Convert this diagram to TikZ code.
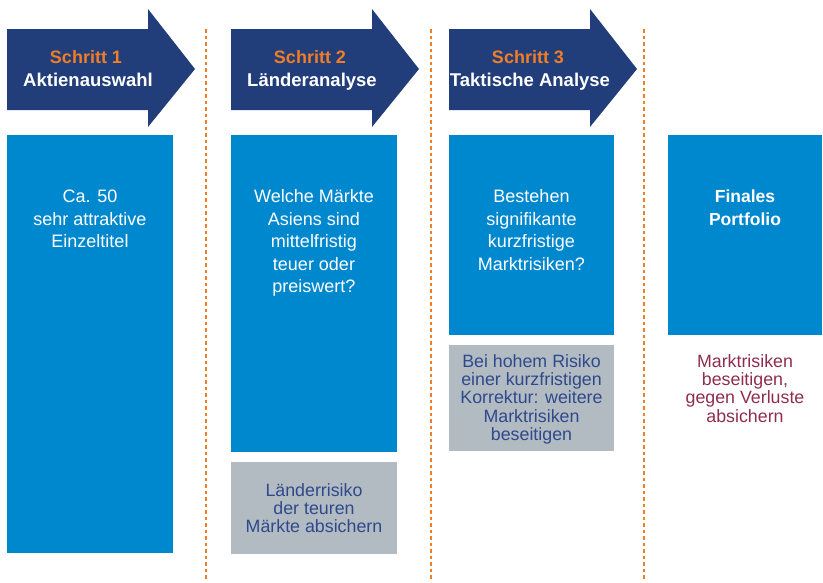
\documentclass[tikz,border=0pt]{standalone}
\usepackage{fontspec}
\setmainfont{Liberation Sans}

\definecolor{arrowblue}{RGB}{33,61,122}
\definecolor{boxblue}{RGB}{0,136,206}
\definecolor{boxgrey}{RGB}{178,186,194}
\definecolor{greytext}{RGB}{47,74,140}
\definecolor{stepora}{RGB}{240,126,38}
\definecolor{maroon}{RGB}{142,46,78}

\begin{document}
\begin{tikzpicture}[x=1pt,y=1pt,yscale=-1,xscale=1,
  bluetxt/.style={anchor=base,inner sep=0pt,align=center,text=white,font=\fontsize{18}{22.5}\selectfont},
  greytxt/.style={anchor=base,inner sep=0pt,align=center,text=greytext,font=\fontsize{17.8}{18.4}\selectfont},
  divider/.style={stepora,line width=2.4pt,dash pattern=on 3.5pt off 3pt}]
\useasboundingbox (0,0) rectangle (823,582);

%Divider Lines
\foreach \x in {206,431,644}
  \draw [divider] (\x,29) -- (\x,579) ;

%Shape: Arrows
\foreach \x/\n/\lbl in {7/1/Aktienauswahl,231/2/Länderanalyse,449/3/Taktische Analyse}{
  \fill [arrowblue] (\x,29) -- (\x+141,29) -- (\x+141,9) -- (\x+188,69) -- (\x+141,127) -- (\x+141,110) -- (\x,110) -- cycle ;
  \node (schritt\n) at (\x+79,63) [anchor=base,inner sep=0pt,text=stepora,font=\fontsize{18}{22}\selectfont\bfseries] {Schritt \n};
  \node (titel\n) at (\x+81,86) [anchor=base,inner sep=0pt,text=white,font=\fontsize{18.5}{22}\selectfont\bfseries] {\lbl};
}

%Shape: Rectangles
\fill [boxblue] (7,135) rectangle (173,553) ;
\fill [boxblue] (231,135) rectangle (397,452) ;
\fill [boxblue] (449,135) rectangle (614,335) ;
\fill [boxblue] (668,135) rectangle (822,335) ;
\fill [boxgrey] (231,462) rectangle (397,554) ;
\fill [boxgrey] (449,345) rectangle (614,451) ;

% Text Node (base = last line)
\node (auswahl) at (90,247.5) [bluetxt] {Ca. 50\\sehr attraktive\\Einzeltitel};
\node (laender) at (314,292.5) [bluetxt] {Welche Märkte\\Asiens sind\\mittelfristig\\teuer oder\\preiswert?};
\node (taktik) at (531.5,270) [bluetxt] {Bestehen\\signifikante\\kurzfristige\\Marktrisiken?};
\node (finales) at (745,225) [bluetxt,font=\fontsize{17.5}{22.5}\selectfont\bfseries] {Finales\\Portfolio};

% Text Node
\node (absichern) at (314,532.8) [greytxt] {Länderrisiko\\der teuren\\Märkte absichern};
\node (korrektur) at (531.5,440.6) [greytxt] {Bei hohem Risiko\\einer kurzfristigen\\Korrektur: weitere\\Marktrisiken\\beseitigen};
\node (verluste) at (745,422.2) [greytxt,text=maroon] {Marktrisiken\\beseitigen,\\gegen Verluste\\absichern};

\end{tikzpicture}
\end{document}
